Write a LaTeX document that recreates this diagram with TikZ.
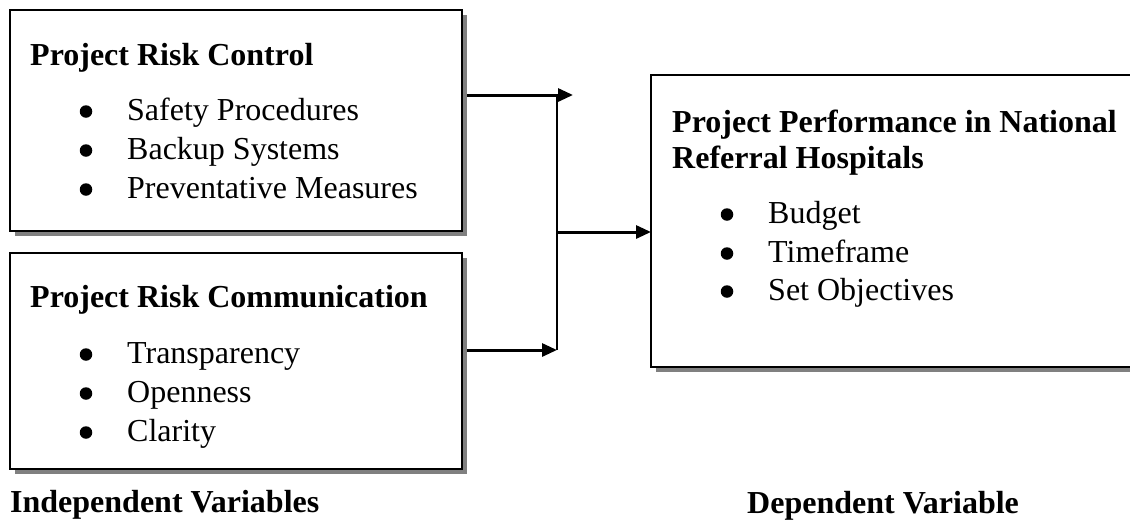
\documentclass[tikz,border=0pt]{standalone}
\usepackage{fontspec}
\setmainfont{Liberation Serif}
\usetikzlibrary{shadows,arrows.meta}
\pgfdeclarelayer{background}
\pgfsetlayers{background,main}
\begin{document}
\begin{tikzpicture}[x=1pt,y=-1pt,
  box/.style={draw, line width=2pt, fill=white, inner sep=0pt, outer sep=0pt, anchor=north west,
    drop shadow={shadow xshift=5pt, shadow yshift=-5pt, fill=black!50, opacity=1}},
  hd/.style={font=\fontsize{32}{36}\selectfont\bfseries, anchor=base west, inner sep=0pt},
  itm/.style={font=\fontsize{32}{36}\selectfont, anchor=base west, inner sep=0pt},
  dot/.style={circle, fill=black, inner sep=0pt, minimum size=12.5pt},
  conn/.style={line width=3pt, -{Triangle[length=15pt,width=13pt]}},
  vline/.style={line width=2pt}]
\useasboundingbox (0,0) rectangle (1130,520);
\clip (0,0) rectangle (1130,520);

% boxes
\node[box, minimum width=452pt, minimum height=221pt] (rc) at (10,10) {};
\node[box, minimum width=452pt, minimum height=216pt] (rcm) at (10,253) {};
\node[box, minimum width=500pt, minimum height=292pt] (pp) at (651,75) {};

% box 1 text
\node[hd] (rch) at (30,65) {Project Risk Control};
\node[dot] (rcb1) at (86,111.5) {};
\node[itm] (rci1) at (127,120) {Safety Procedures};
\node[dot] (rcb2) at (86,150.5) {};
\node[itm] (rci2) at (127,159) {Backup Systems};
\node[dot] (rcb3) at (86,189.5) {};
\node[itm] (rci3) at (127,198) {Preventative Measures};

% box 2 text
\node[hd] (rmh) at (30,307) {Project Risk Communication};
\node[dot] (rmb1) at (86,354.5) {};
\node[itm] (rmi1) at (127,363) {Transparency};
\node[dot] (rmb2) at (86,393.5) {};
\node[itm] (rmi2) at (127,402) {Openness};
\node[dot] (rmb3) at (86,432.5) {};
\node[itm] (rmi3) at (127,441) {Clarity};

% box 3 text
\node[hd] (pph1) at (672,132) {Project Performance in National};
\node[hd] (pph2) at (672,168) {Referral Hospitals};
\node[dot] (ppb1) at (727,214.5) {};
\node[itm] (ppi1) at (768,223) {Budget};
\node[dot] (ppb2) at (727,253.5) {};
\node[itm] (ppi2) at (768,262) {Timeframe};
\node[dot] (ppb3) at (727,291.5) {};
\node[itm] (ppi3) at (768,300) {Set Objectives};

% labels
\node[hd] (ind) at (10,512) {Independent Variables};
\node[hd] (dep) at (747,513) {Dependent Variable};

% connectors
\coordinate (jt) at (557,95);
\coordinate (jb) at (557,350);
\coordinate (jm) at (557,232);
\coordinate (tt) at (573,95);
\begin{pgfonlayer}{background}
\draw[conn] (rc.east |- jt) -- (tt);
\draw[conn] (rcm.east |- jb) -- (jb);
\end{pgfonlayer}
\draw[vline] (jt) -- (jb);
\draw[conn] (jm) -- (pp.west |- jm);
\end{tikzpicture}
\end{document}
